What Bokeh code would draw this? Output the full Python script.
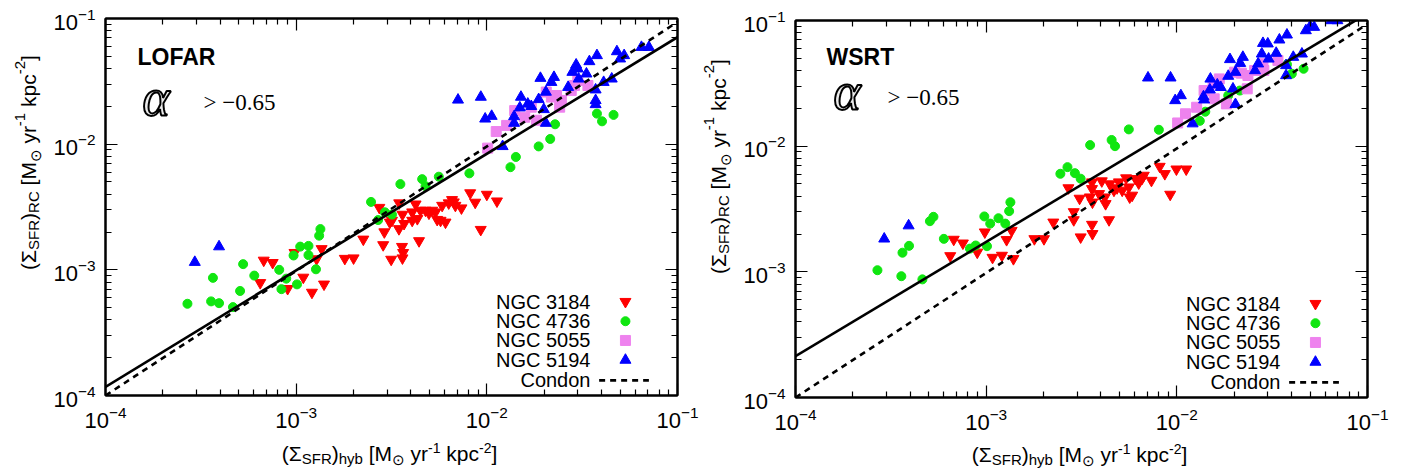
import math
from bokeh.plotting import figure
from bokeh.layouts import row, column
from bokeh.models import Label, LogAxis, FixedTicker, Range1d, CustomJSTickFormatter
from bokeh.embed import file_html
from bokeh.resources import INLINE

# ---------------- data ----------------
galaxies = ["NGC 3184", "NGC 4736", "NGC 5055", "NGC 5194"]

# LOFAR panel
lofar_3184_x = [6.48e-4, 6.76e-4, 7.53e-4, 9.02e-4, 9.8e-4, 1.09e-3, 1.21e-3, 1.28e-3, 1.36e-3, 1.40e-3,
                1.80e-3, 2.0e-3, 2.25e-3, 2.73e-3, 2.86e-3, 2.90e-3, 3.10e-3, 3.18e-3, 3.15e-3, 3.47e-3,
                3.46e-3, 3.59e-3, 3.64e-3, 3.61e-3, 3.61e-3, 3.68e-3, 4.06e-3, 4.06e-3, 4.23e-3, 4.32e-3,
                4.41e-3, 4.49e-3, 4.77e-3, 4.97e-3, 5.17e-3, 5.38e-3, 5.49e-3, 5.72e-3, 5.83e-3, 6.07e-3,
                6.31e-3, 6.57e-3, 6.71e-3, 6.84e-3, 7.36e-3, 8.18e-3, 8.69e-3, 9.29e-3, 1.0e-2, 1.13e-2]
lofar_3184_y = [7.89e-4, 1.19e-3, 1.14e-3, 7.08e-4, 1.37e-3, 8.71e-4, 6.61e-4, 1.22e-3, 1.47e-3, 7.68e-4,
                1.23e-3, 1.24e-3, 1.75e-3, 3.13e-3, 1.58e-3, 2.0e-3, 2.39e-3, 2.47e-3, 1.21e-3, 3.40e-3,
                2.12e-3, 1.53e-3, 1.37e-3, 1.24e-3, 2.76e-3, 2.33e-3, 2.88e-3, 2.47e-3, 3.33e-3, 2.55e-3,
                1.70e-3, 2.97e-3, 2.97e-3, 2.82e-3, 2.97e-3, 2.88e-3, 2.51e-3, 2.47e-3, 3.25e-3, 2.39e-3,
                3.40e-3, 3.61e-3, 3.46e-3, 3.25e-3, 3.10e-3, 4.09e-3, 3.44e-3, 2.09e-3, 3.98e-3, 3.52e-3]
lofar_4736_x = [2.69e-4, 3.58e-4, 3.66e-4, 3.94e-4, 4.66e-4, 5.08e-4, 5.27e-4, 6.03e-4, 8.15e-4, 8.37e-4,
                8.87e-4, 1.01e-3, 9.69e-4, 1.05e-3, 1.16e-3, 1.16e-3, 1.27e-3, 1.32e-3, 1.34e-3, 2.47e-3,
                2.69e-3, 2.92e-3, 3.18e-3, 3.52e-3, 4.58e-3, 4.77e-3, 5.6e-3, 8.1e-3, 1.33e-2, 1.42e-2,
                1.87e-2, 2.15e-2, 2.28e-2, 3.78e-2, 4.02e-2, 4.62e-2]
lofar_4736_y = [5.37e-4, 5.61e-4, 8.63e-4, 5.43e-4, 5.05e-4, 6.79e-4, 1.11e-3, 9.0e-4, 1.0e-3, 7.02e-4,
                8.51e-4, 7.66e-4, 1.30e-3, 1.53e-3, 1.55e-3, 1.31e-3, 1.01e-3, 1.87e-3, 2.11e-3, 3.47e-3,
                2.49e-3, 2.87e-3, 2.75e-3, 4.81e-3, 5.27e-3, 4.63e-3, 5.51e-3, 5.86e-3, 6.56e-3, 7.91e-3,
                9.6e-3, 1.10e-2, 1.44e-2, 1.75e-2, 1.52e-2, 1.71e-2]
lofar_5055_x = [1.01e-2, 1.12e-2, 1.27e-2, 1.40e-2, 1.58e-2, 1.82e-2, 1.71e-2, 2.05e-2, 2.32e-2, 2.46e-2,
                2.41e-2, 2.77e-2, 2.88e-2, 3.39e-2, 2.18e-2, 3.0e-2]
lofar_5055_y = [9.3e-3, 1.26e-2, 1.41e-2, 1.85e-2, 1.64e-2, 1.55e-2, 1.97e-2, 2.6e-2, 2.44e-2, 2.23e-2,
                1.97e-2, 2.67e-2, 2.93e-2, 2.93e-2, 2.37e-2, 3.21e-2]
lofar_5194_x = [2.94e-4, 3.94e-4, 7.06e-3, 9.3e-3, 9.8e-3, 1.06e-2, 1.21e-2, 1.39e-2, 1.39e-2, 1.49e-2,
                1.51e-2, 1.64e-2, 1.71e-2, 1.87e-2, 1.91e-2, 1.99e-2, 2.04e-2, 2.04e-2, 2.18e-2, 2.25e-2,
                2.67e-2, 2.81e-2, 2.94e-2, 3.0e-2, 3.03e-2, 3.33e-2, 3.45e-2, 3.72e-2, 3.72e-2, 3.72e-2,
                3.78e-2, 4.1e-2, 4.52e-2, 4.81e-2, 5.0e-2, 5.25e-2, 6.47e-2, 7.08e-2]
lofar_5194_y = [1.15e-3, 1.53e-3, 2.25e-2, 2.37e-2, 1.59e-2, 1.67e-2, 9.6e-3, 1.47e-2, 1.66e-2, 1.95e-2,
                2.37e-2, 2.09e-2, 2.0e-2, 2.27e-2, 3.35e-2, 1.89e-2, 1.47e-2, 2.6e-2, 3.11e-2, 3.41e-2,
                2.84e-2, 3.74e-2, 4.28e-2, 3.98e-2, 3.31e-2, 3.63e-2, 4.55e-2, 2.71e-2, 2.23e-2, 2.07e-2,
                5.08e-2, 3.11e-2, 3.31e-2, 5.46e-2, 4.78e-2, 5.08e-2, 5.91e-2, 5.91e-2]

# WSRT panel
wsrt_3184_x = [6.48e-4, 6.76e-4, 7.55e-4, 8.98e-4, 9.84e-4, 1.08e-3, 1.21e-3, 1.28e-3, 1.36e-3, 1.39e-3,
               1.79e-3, 2.01e-3, 2.25e-3, 2.70e-3, 2.88e-3, 2.88e-3, 3.09e-3, 3.13e-3, 3.59e-3, 3.59e-3,
               3.50e-3, 3.61e-3, 3.59e-3, 3.61e-3, 3.91e-3, 4.04e-3, 4.19e-3, 4.23e-3, 4.41e-3, 4.45e-3,
               4.68e-3, 4.86e-3, 5.17e-3, 4.97e-3, 5.42e-3, 5.6e-3, 5.66e-3, 5.83e-3, 6.07e-3, 6.31e-3,
               6.57e-3, 6.71e-3, 7.36e-3, 8.13e-3, 8.65e-3, 9.23e-3, 9.95e-3, 1.12e-2]
wsrt_3184_y = [1.34e-3, 1.81e-3, 1.69e-3, 1.43e-3, 2.07e-3, 1.30e-3, 1.35e-3, 1.80e-3, 2.13e-3, 1.27e-3,
               1.83e-3, 1.83e-3, 2.48e-3, 4.65e-3, 3.0e-3, 2.59e-3, 3.84e-3, 1.89e-3, 4.58e-3, 5.18e-3,
               3.93e-3, 3.58e-3, 2.38e-3, 2.01e-3, 4.18e-3, 5.28e-3, 3.93e-3, 3.48e-3, 2.59e-3, 5.0e-3,
               4.45e-3, 4.65e-3, 4.45e-3, 5.18e-3, 5.58e-3, 4.72e-3, 3.93e-3, 4.06e-3, 5.51e-3, 5.08e-3,
               5.53e-3, 5.85e-3, 5.33e-3, 6.89e-3, 6.03e-3, 4.13e-3, 6.56e-3, 6.56e-3]
wsrt_4736_x = [2.69e-4, 3.59e-4, 3.64e-4, 3.94e-4, 4.63e-4, 5.07e-4, 5.29e-4, 6.0e-4, 8.22e-4, 8.81e-4,
               1.01e-3, 9.78e-4, 1.05e-3, 1.16e-3, 1.26e-3, 1.32e-3, 1.34e-3, 2.45e-3, 2.67e-3, 2.92e-3,
               3.13e-3, 3.51e-3, 4.55e-3, 4.74e-3, 5.6e-3, 8.05e-3, 1.32e-2, 1.41e-2, 1.86e-2, 2.14e-2,
               3.78e-2, 4.01e-2, 4.62e-2]
wsrt_4736_y = [1.03e-3, 9.23e-4, 1.42e-3, 1.61e-3, 8.71e-4, 2.53e-3, 2.74e-3, 1.83e-3, 1.53e-3, 1.62e-3,
               1.60e-3, 2.76e-3, 2.42e-3, 2.67e-3, 2.42e-3, 3.04e-3, 3.58e-3, 6.03e-3, 6.81e-3, 6.1e-3,
               5.51e-3, 1.02e-2, 1.12e-2, 1.0e-2, 1.36e-2, 1.35e-2, 1.59e-2, 1.88e-2, 2.53e-2, 2.77e-2,
               4.47e-2, 3.77e-2, 4.13e-2]
wsrt_5055_x = [1.01e-2, 1.11e-2, 1.27e-2, 1.39e-2, 1.57e-2, 1.67e-2, 1.82e-2, 2.01e-2, 2.18e-2, 2.34e-2,
               2.36e-2, 2.56e-2, 2.83e-2, 2.86e-2, 3.39e-2, 1.55e-2]
wsrt_5055_y = [1.53e-2, 1.81e-2, 2.04e-2, 2.77e-2, 2.38e-2, 3.43e-2, 2.17e-2, 3.88e-2, 3.81e-2, 2.86e-2,
               3.65e-2, 4.0e-2, 4.53e-2, 4.0e-2, 4.81e-2, 3.13e-2]
wsrt_5194_x = [2.92e-4, 3.92e-4, 7.06e-3, 9.27e-3, 9.8e-3, 1.05e-2, 1.21e-2, 1.38e-2, 1.39e-2, 1.49e-2,
               1.50e-2, 1.63e-2, 1.70e-2, 1.86e-2, 1.90e-2, 1.97e-2, 2.03e-2, 2.03e-2, 2.15e-2, 2.22e-2,
               2.57e-2, 2.67e-2, 2.79e-2, 2.83e-2, 3.0e-2, 3.03e-2, 3.32e-2, 3.45e-2, 3.74e-2, 3.74e-2,
               3.78e-2, 4.08e-2, 4.53e-2, 4.75e-2, 5.0e-2, 5.25e-2, 6.47e-2, 6.95e-2]
wsrt_5194_y = [1.83e-3, 2.33e-3, 3.50e-2, 3.50e-2, 2.31e-2, 2.53e-2, 1.51e-2, 2.48e-2, 2.34e-2, 2.81e-2,
               3.43e-2, 3.08e-2, 2.94e-2, 3.61e-2, 4.90e-2, 2.86e-2, 3.88e-2, 2.15e-2, 4.57e-2, 5.11e-2,
               4.0e-2, 4.53e-2, 5.43e-2, 6.59e-2, 6.53e-2, 4.95e-2, 5.5e-2, 7.02e-2, 4.39e-2, 3.65e-2,
               7.69e-2, 5.11e-2, 5.43e-2, 8.32e-2, 8.96e-2, 8.85e-2, 1.0e-1, 1.0e-1]

# fitted relation (solid) and Condon relation (dashed), end points
line_x = [1e-4, 1e-1]
lofar_fit_y = [1.17e-4, 7.1e-2]
wsrt_fit_y = [2.13e-4, 1.14e-1]
condon_y = [1.0e-4, 9.4e-2]

major_ticks = [1e-4, 1e-3, 1e-2, 1e-1]
minor_ticks = [m * 10.0 ** e for e in range(-4, -1) for m in range(2, 10)]

# ---------------- styling ----------------
FW, FH = 576, 377
COLORS = ["#ff0000", "#10e610", "#ee82ee", "#0000ff"]
MARKERS = ["inverted_triangle", "circle", "square", "triangle"]
SIZES = [11, 9, 10, 11]
NB = "\u00a0"

CW = {NB: .278, '(': .333, ')': .333, '[': .278, ']': .278, 'Σ': .62, 'S': .667, 'F': .611,
      'R': .722, 'C': .722, 'M': .833, 'h': .556, 'y': .5, 'b': .556, 'r': .333, 'k': .5,
      'p': .556, 'c': .5, '-': .333, '⊙': .84}


def tw(s, size):
    return sum(CW.get(c, .556) for c in s) * size


def rich_label(p, pieces, cx, cy, vertical=False):
    total = sum(tw(t, s) for t, s, d in pieces)
    pos = -total / 2
    for t, s, d in pieces:
        if vertical:
            lab = Label(x=cx + d, y=cy + pos, angle=math.pi / 2)
        else:
            lab = Label(x=cx + pos, y=cy - d)
        lab.x_units = "screen"
        lab.y_units = "screen"
        lab.text = t
        lab.text_font = "Liberation Sans"
        lab.text_font_size = f"{s}px"
        lab.text_baseline = "middle"
        lab.text_align = "left"
        lab.text_color = "black"
        p.add_layout(lab)
        pos += tw(t, s)


def blank(w, h):
    f = figure(width=w, height=h, x_range=Range1d(0, w), y_range=Range1d(0, h),
               x_axis_location=None, y_axis_location=None, output_backend="svg",
               toolbar_location=None, min_border=0)
    f.grid.visible = False
    f.outline_line_color = None
    f.background_fill_color = "white"
    f.border_fill_color = "white"
    return f


def style_axis(ax, labels=True):
    ax.ticker = FixedTicker(ticks=major_ticks, minor_ticks=minor_ticks)
    ax.axis_line_color = "black"
    ax.axis_line_width = 2
    ax.major_tick_in = 12
    ax.major_tick_out = 0
    ax.minor_tick_in = 6
    ax.minor_tick_out = 0
    ax.major_tick_line_color = "black"
    ax.minor_tick_line_color = "black"
    ax.major_tick_line_width = 1.2
    ax.minor_tick_line_width = 1.2
    ax.major_label_text_font = "Liberation Sans"
    ax.major_label_text_color = "black"
    ax.major_label_text_font_size = "22px"
    if labels:
        ax.major_label_standoff = 10
    else:
        ax.formatter = CustomJSTickFormatter(code="return ''")
        ax.major_label_standoff = 0


def panel(name, series, fit_y, width, bl, br, bt, tpos):
    p = figure(width=width, height=438, x_axis_type="log", y_axis_type="log",
               x_range=Range1d(1e-4, 1e-1), y_range=Range1d(1e-4, 1e-1),
               output_backend="svg", toolbar_location=None,
               min_border_left=bl, min_border_right=br, min_border_top=bt,
               min_border_bottom=438 - bt - FH)
    p.grid.visible = False
    p.outline_line_color = "black"
    p.outline_line_width = 2
    p.background_fill_color = "white"
    p.border_fill_color = "white"
    for ax in p.xaxis + p.yaxis:
        style_axis(ax, True)
    top = LogAxis()
    right = LogAxis()
    style_axis(top, False)
    style_axis(right, False)
    p.add_layout(top, "above")
    p.add_layout(right, "right")

    for (xs, ys), c, m, s in zip(series, COLORS, MARKERS, SIZES):
        p.scatter(xs, ys, marker=m, size=s, fill_color=c, line_color=c)

    p.line(line_x, fit_y, line_color="black", line_width=2.6)
    p.line(line_x, condon_y, line_color="black", line_width=2.6, line_dash="6 5")

    # annotations inside the frame (positions: x from frame left, y = distance of centre from frame top)
    (nx, ny), (ax_, ay), (tx, ty) = tpos
    p.add_layout(Label(x=nx, y=FH - ny, x_units="screen", y_units="screen", text=name,
                       text_font="Liberation Sans", text_font_style="bold", text_font_size="23px",
                       text_baseline="middle", text_color="black"))
    p.add_layout(Label(x=ax_, y=FH - ay, x_units="screen", y_units="screen", text="α",
                       text_font="Liberation Serif", text_font_style="italic", text_font_size="52px",
                       text_baseline="middle", text_color="#ececec",
                       text_outline_color="black"))
    p.add_layout(Label(x=tx, y=FH - ty, x_units="screen", y_units="screen", text="> −0.65",
                       text_font="Liberation Serif", text_font_size="23px",
                       text_baseline="middle", text_color="black"))

    # legend: text right-aligned, symbol on the right
    leg_fy = [0.751, 0.803, 0.854, 0.906, 0.960]
    for i, (g, c, m, s) in enumerate(zip(galaxies, COLORS, MARKERS, SIZES)):
        p.add_layout(Label(x=0.842 * FW, y=FH * (1 - leg_fy[i]), x_units="screen", y_units="screen",
                           text=g, text_align="right", text_baseline="middle",
                           text_font="Liberation Sans", text_font_size="20px", text_color="black"))
        p.scatter([10 ** (-4 + 3 * 0.909)], [10 ** (-1 - 3 * leg_fy[i])], marker=m, size=s,
                  fill_color=c, line_color=c)
    p.add_layout(Label(x=0.842 * FW, y=FH * (1 - leg_fy[4]), x_units="screen", y_units="screen",
                       text="Condon", text_align="right", text_baseline="middle",
                       text_font="Liberation Sans", text_font_size="20px", text_color="black"))
    ly = 10 ** (-1 - 3 * leg_fy[4])
    p.line([10 ** (-4 + 3 * 0.863), 10 ** (-4 + 3 * 0.950)], [ly, ly], line_color="black",
           line_width=2.6, line_dash="6 5")
    return p


XL = [("(", 21, 0), ("Σ", 21, 0), ("SFR", 15, 5), (")", 21, 0), ("hyb", 15, 5), (NB + "[M", 21, 0),
      ("⊙", 15, 6), (NB + "yr", 21, 0), ("-1", 14, -6), (NB + "kpc", 21, 0), ("-2", 14, -6), ("]", 21, 0)]
YL = [("(", 21, 0), ("Σ", 21, 0), ("SFR", 15, 5), (")", 21, 0), ("RC", 15, 5), (NB + "[M", 21, 0),
      ("⊙", 15, 7), (NB + "yr", 21, 0), ("-1", 15, -9), (NB + "kpc", 21, 0), ("-2", 15, -9), ("]", 21, 0)]

# left column: x 0..700
yl1 = blank(50, 438)
rich_label(yl1, YL, 28, 438 - 205, vertical=True)
p1 = panel("LOFAR",
           [(lofar_3184_x, lofar_3184_y), (lofar_4736_x, lofar_4736_y),
            (lofar_5055_x, lofar_5055_y), (lofar_5194_x, lofar_5194_y)],
           lofar_fit_y, 650, 51, 23, 18, ((32, 38), (37, 78.5), (98, 83.5)))
xl1 = blank(700, 32)
rich_label(xl1, XL, 389, 17)

# right column: x 700..1406
yl2 = blank(40, 438)
rich_label(yl2, YL, 17.5, 438 - 207, vertical=True)
p2 = panel("WSRT",
           [(wsrt_3184_x, wsrt_3184_y), (wsrt_4736_x, wsrt_4736_y),
            (wsrt_5055_x, wsrt_5055_y), (wsrt_5194_x, wsrt_5194_y)],
           wsrt_fit_y, 666, 51, 39, 20, ((31, 36), (38, 70.5), (92, 76.5)))
xl2 = blank(706, 32)
rich_label(xl2, XL, 379, 16)

layout = row(column(row(yl1, p1), xl1), column(row(yl2, p2), xl2))
open("out.html", "w").write(file_html(layout, INLINE))
